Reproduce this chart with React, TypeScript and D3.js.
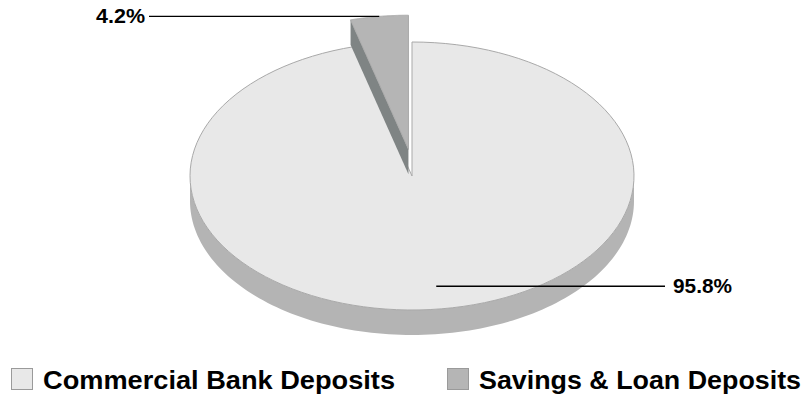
import React from "react";
import * as d3 from "d3";

const categories = ["Commercial Bank Deposits", "Savings & Loan Deposits"];
const values = [95.8, 4.2];
const labels = ["95.8%", "4.2%"];
const topColors = ["#e8e8e8", "#b5b5b5"];
const sideColors = ["#b4b4b4", "#7f8484"];

const W = 807, H = 402;
const cx = 412, cy = 176, rx = 222, ry = 134, depth = 25;
const explode = [0, 27];
const FONT = "Liberation Sans, Arial, sans-serif";

function pt(a: number, r: number, ox = 0, oy = 0): [number, number] {
  return [cx + ox + rx * r * Math.sin(a), cy + oy - ry * r * Math.cos(a)];
}

function arcPts(a0: number, a1: number, ox = 0, oy = 0, dy = 0, n = 120) {
  const pts: [number, number][] = [];
  for (let i = 0; i <= n; i++) {
    const a = a0 + ((a1 - a0) * i) / n;
    const p = pt(a, 1, ox, oy);
    pts.push([p[0], p[1] + dy]);
  }
  return pts;
}

export default function App() {
  const pie = d3.pie<number>().sort(null).value((d) => d);
  const arcs = pie(values);
  const line = d3.line();

  const shapes: React.ReactNode[] = [];
  const annotations: React.ReactNode[] = [];

  arcs.forEach((arc, i) => {
    const mid = (arc.startAngle + arc.endAngle) / 2;
    const ox = explode[i] * Math.sin(mid);
    const oy = -explode[i] * Math.cos(mid);
    const c: [number, number] = [cx + ox, cy + oy];
    const s0 = Math.max(arc.startAngle, Math.PI / 2);
    const s1 = Math.min(arc.endAngle, (3 * Math.PI) / 2);
    if (s1 > s0) {
      const top = arcPts(s0, s1, ox, oy);
      const bot = arcPts(s0, s1, ox, oy, depth).reverse();
      shapes.push(
        <path key={"side" + i} d={line([...top, ...bot])! + "Z"} fill={sideColors[0]} stroke="none" />
      );
    }
    if (i === 1) {
      const o = pt(arc.startAngle, 1, ox, oy);
      const wall: [number, number][] = [c, o, [o[0], o[1] + depth], [c[0], c[1] + depth]];
      shapes.push(<path key={"wall" + i} d={line(wall)! + "Z"} fill={sideColors[1]} stroke="none" />);
    }
    const topPts = [c, ...arcPts(arc.startAngle, arc.endAngle, ox, oy)];
    shapes.push(
      <path key={"top" + i} d={line(topPts)! + "Z"} fill={topColors[i]} stroke="#a9a9a9" strokeWidth={1} strokeLinejoin="round" />
    );

    if (i === 0) {
      const p = pt(mid, 0.83, ox, oy);
      annotations.push(
        <g key={"lab" + i}>
          <line x1={p[0]} y1={p[1]} x2={665} y2={p[1]} stroke="#000" strokeWidth={1.3} />
          <text x={673} y={p[1] + 7} fontSize={20} fontWeight="bold" fontFamily={FONT} textLength={59} lengthAdjust="spacingAndGlyphs">{labels[i]}</text>
        </g>
      );
    } else {
      const p = pt(mid, 1, ox, oy);
      annotations.push(
        <g key={"lab" + i}>
          <line x1={p[0]} y1={p[1]} x2={149} y2={p[1]} stroke="#000" strokeWidth={1.3} />
          <text x={96} y={p[1] + 7} fontSize={20} fontWeight="bold" fontFamily={FONT} textLength={49} lengthAdjust="spacingAndGlyphs">{labels[i]}</text>
        </g>
      );
    }
  });

  const legendX = [11, 447];
  const legendLen = [352, 322];
  return (
    <svg width={W} height={H} style={{ position: "absolute", left: 0, top: 0, background: "#fff" }}>
      {shapes}
      {annotations}
      {categories.map((c, i) => (
        <g key={"leg" + i}>
          <rect x={legendX[i] + 0.5} y={368.5} width={21} height={21} fill={topColors[i]} stroke="#9a9a9a" strokeWidth={1} />
          <text x={legendX[i] + 32} y={389} fontSize={25} fontWeight="bold" fontFamily={FONT} textLength={legendLen[i]} lengthAdjust="spacingAndGlyphs">{c}</text>
        </g>
      ))}
    </svg>
  );
}
